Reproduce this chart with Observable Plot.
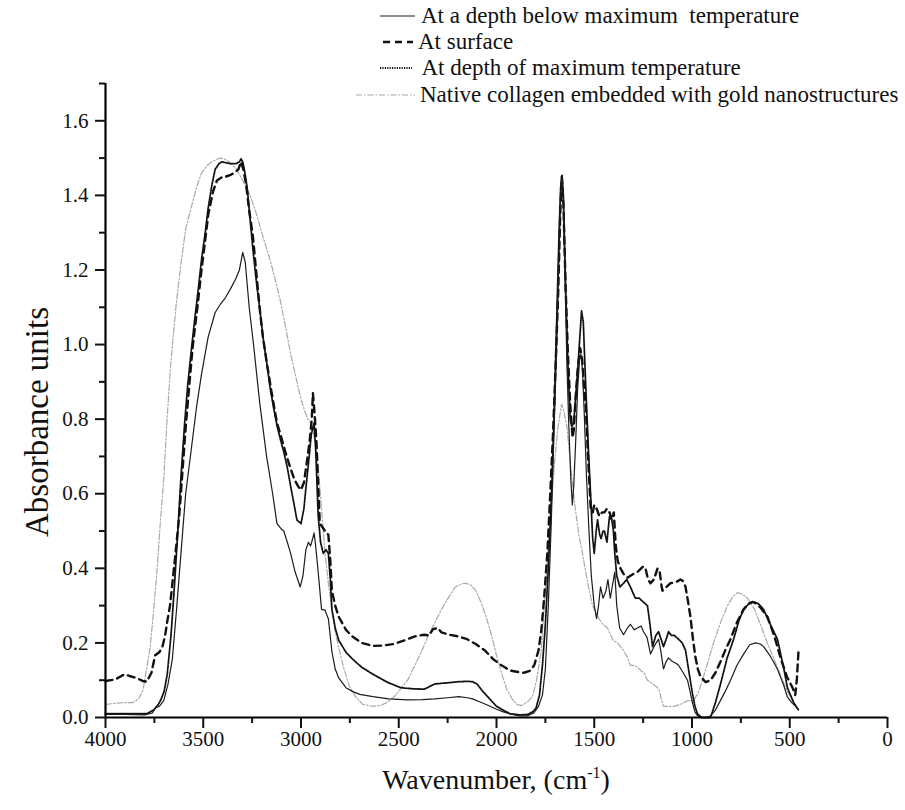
<!DOCTYPE html>
<html><head><meta charset="utf-8">
<script src="https://cdn.jsdelivr.net/npm/d3@7"></script>
<script src="https://cdn.jsdelivr.net/npm/@observablehq/plot@0.6"></script>
<style>
body{margin:0;background:#fff;}
#wrap{position:relative;width:905px;height:810px;font-family:"Liberation Serif","Times New Roman",serif;color:#111;}
.leg{position:absolute;display:flex;align-items:center;font-size:23px;white-space:pre;height:26px;}
.leg svg{flex:none;}
</style></head><body><div id="wrap"></div>
<script>
// ---- data (wavenumber cm-1, absorbance) ----
const seriesNames = [
  "At a depth below maximum  temperature",
  "At surface",
  " At depth of maximum temperature",
  "Native collagen embedded with gold nanostructures"
];
const xMajorTicks = [4000,3500,3000,2500,2000,1500,1000,500,0];
const xMinorTicks = [3750,3250,2750,2250,1750,1250,750,250];
const yMajorTicks = [0,0.2,0.4,0.6,0.8,1.0,1.2,1.4,1.6];
const yMinorTicks = [0.1,0.3,0.5,0.7,0.9,1.1,1.3,1.5,1.7];

const belowWn = [4000,3900,3800,3760,3745,3725,3702,3680,3658,3635,3614,3590,3561,3535,3509,3475,3439,3410,3386,3360,3333,3315,3298,3285,3265,3246,3211,3176,3145,3123,3100,3088,3070,3053,3030,3004,2990,2975,2962,2951,2940,2933,2925,2912,2895,2877,2868,2860,2842,2825,2807,2770,2737,2700,2632,2550,2456,2380,2316,2250,2193,2150,2123,2090,2053,2000,1965,1920,1877,1840,1810,1785,1765,1750,1735,1720,1705,1692,1680,1670,1664,1658,1650,1640,1630,1620,1612,1605,1595,1585,1575,1568,1560,1550,1540,1527,1515,1500,1488,1478,1468,1455,1440,1430,1418,1405,1395,1385,1370,1350,1330,1315,1295,1280,1260,1248,1230,1212,1195,1171,1160,1146,1132,1120,1100,1080,1069,1045,1023,1010,998,985,972,950,920,905,880,850,830,803,770,736,705,675,650,634,600,563,530,512,490,470,455];
const belowAbs = [0.008,0.008,0.007,0.012,0.025,0.03,0.045,0.09,0.157,0.3,0.44,0.6,0.72,0.83,0.92,1.02,1.086,1.11,1.126,1.15,1.177,1.2,1.247,1.22,1.1,1.015,0.843,0.70,0.6,0.52,0.505,0.5,0.47,0.44,0.39,0.35,0.38,0.45,0.47,0.46,0.48,0.495,0.46,0.39,0.29,0.288,0.275,0.265,0.177,0.13,0.106,0.08,0.07,0.062,0.056,0.05,0.047,0.048,0.05,0.053,0.056,0.053,0.05,0.043,0.035,0.022,0.015,0.008,0.004,0.005,0.012,0.03,0.06,0.13,0.3,0.52,0.78,1.0,1.25,1.42,1.45,1.38,1.2,0.95,0.78,0.64,0.57,0.62,0.74,0.88,0.96,0.975,0.93,0.8,0.65,0.5,0.38,0.3,0.265,0.3,0.35,0.32,0.34,0.37,0.32,0.36,0.39,0.3,0.24,0.222,0.24,0.25,0.235,0.24,0.245,0.23,0.215,0.17,0.19,0.21,0.18,0.13,0.15,0.16,0.15,0.145,0.14,0.12,0.1,0.07,0.04,0.015,0.005,0.0,0.0,0.005,0.02,0.05,0.07,0.1,0.14,0.17,0.195,0.2,0.197,0.19,0.165,0.13,0.085,0.055,0.04,0.03,0.02];

const surfaceWn = [4000,3950,3903,3870,3842,3810,3789,3765,3746,3725,3710,3695,3684,3670,3658,3640,3623,3605,3588,3570,3553,3530,3509,3490,3474,3450,3430,3400,3386,3360,3342,3320,3307,3295,3281,3265,3246,3230,3211,3195,3176,3150,3123,3100,3079,3055,3035,3015,3000,2985,2974,2956,2945,2939,2930,2921,2910,2904,2890,2877,2860,2850,2842,2825,2807,2770,2737,2690,2632,2580,2526,2470,2421,2370,2345,2325,2300,2281,2240,2193,2150,2106,2060,2018,1975,1930,1890,1860,1830,1807,1785,1770,1755,1740,1725,1711,1697,1684,1674,1666,1658,1646,1635,1623,1611,1605,1595,1585,1572,1562,1550,1544,1530,1518,1508,1500,1488,1474,1460,1448,1435,1422,1410,1400,1390,1380,1366,1350,1330,1315,1300,1279,1260,1250,1238,1225,1212,1195,1176,1165,1155,1151,1140,1130,1110,1090,1075,1059,1045,1033,1020,1008,995,982,970,957,930,905,880,854,830,803,770,736,710,690,670,650,614,580,547,515,486,472,464,455];
const surfaceAbs = [0.098,0.102,0.116,0.11,0.106,0.098,0.096,0.12,0.167,0.175,0.187,0.22,0.258,0.3,0.359,0.45,0.54,0.67,0.79,0.9,0.999,1.1,1.2,1.28,1.35,1.41,1.44,1.45,1.45,1.455,1.46,1.47,1.49,1.47,1.43,1.36,1.29,1.2,1.096,1.02,0.955,0.87,0.79,0.75,0.71,0.67,0.64,0.62,0.61,0.63,0.67,0.74,0.8,0.87,0.81,0.74,0.6,0.52,0.51,0.5,0.49,0.42,0.34,0.3,0.27,0.235,0.217,0.2,0.192,0.193,0.197,0.207,0.217,0.222,0.22,0.237,0.24,0.228,0.222,0.217,0.21,0.197,0.18,0.157,0.14,0.126,0.122,0.12,0.125,0.14,0.18,0.237,0.33,0.44,0.6,0.76,0.95,1.146,1.35,1.45,1.38,1.146,0.98,0.84,0.75,0.77,0.86,0.93,0.99,0.96,0.87,0.84,0.68,0.56,0.55,0.57,0.56,0.54,0.55,0.55,0.56,0.55,0.53,0.55,0.46,0.42,0.40,0.385,0.375,0.38,0.385,0.39,0.40,0.405,0.40,0.37,0.36,0.37,0.40,0.39,0.35,0.34,0.345,0.35,0.36,0.362,0.365,0.37,0.365,0.35,0.31,0.27,0.21,0.16,0.13,0.11,0.095,0.10,0.12,0.15,0.18,0.21,0.255,0.29,0.305,0.31,0.305,0.295,0.27,0.22,0.16,0.11,0.08,0.06,0.1,0.18];

const maxTempWn = [4000,3900,3789,3754,3730,3719,3700,3684,3665,3649,3630,3614,3595,3579,3560,3544,3525,3509,3490,3474,3455,3439,3420,3404,3380,3360,3333,3315,3307,3298,3290,3275,3263,3245,3228,3210,3193,3175,3158,3140,3123,3105,3088,3070,3053,3035,3021,3000,2985,2974,2960,2947,2933,2925,2912,2900,2886,2872,2860,2850,2842,2825,2807,2770,2737,2690,2632,2560,2491,2430,2369,2316,2250,2193,2150,2123,2100,2070,2035,2000,1960,1930,1880,1842,1815,1798,1780,1765,1750,1735,1719,1705,1693,1680,1672,1665,1658,1646,1635,1623,1615,1605,1595,1585,1575,1565,1556,1544,1530,1518,1508,1500,1490,1483,1472,1465,1455,1448,1435,1422,1410,1402,1395,1385,1369,1350,1334,1315,1290,1270,1250,1228,1215,1202,1185,1171,1158,1146,1132,1120,1105,1090,1069,1050,1033,1015,998,985,972,950,905,880,854,820,787,760,736,710,685,660,634,600,563,530,512,480,455];
const maxTempAbs = [0.01,0.01,0.01,0.02,0.035,0.045,0.07,0.116,0.22,0.34,0.5,0.645,0.79,0.894,0.99,1.066,1.15,1.227,1.3,1.369,1.43,1.47,1.485,1.49,1.487,1.485,1.485,1.49,1.498,1.49,1.47,1.42,1.35,1.25,1.167,1.09,1.015,0.95,0.884,0.83,0.783,0.745,0.712,0.67,0.62,0.57,0.53,0.52,0.56,0.62,0.69,0.76,0.79,0.72,0.54,0.47,0.44,0.45,0.44,0.37,0.29,0.24,0.207,0.175,0.157,0.135,0.116,0.095,0.08,0.077,0.076,0.09,0.093,0.096,0.097,0.096,0.09,0.07,0.05,0.03,0.018,0.01,0.007,0.008,0.015,0.025,0.06,0.14,0.25,0.4,0.59,0.82,1.045,1.3,1.42,1.455,1.4,1.146,0.95,0.80,0.78,0.79,0.86,0.93,1.01,1.09,1.06,0.894,0.72,0.59,0.48,0.44,0.5,0.53,0.49,0.48,0.5,0.5,0.47,0.54,0.53,0.5,0.44,0.38,0.35,0.36,0.37,0.35,0.32,0.32,0.31,0.30,0.25,0.19,0.22,0.23,0.21,0.19,0.21,0.23,0.22,0.22,0.21,0.2,0.18,0.12,0.065,0.03,0.01,0.0,0.0,0.04,0.09,0.16,0.21,0.26,0.29,0.305,0.31,0.305,0.29,0.25,0.21,0.13,0.08,0.04,0.02];

const goldWn = [4000,3950,3900,3860,3830,3807,3790,3772,3755,3737,3720,3702,3685,3667,3640,3614,3590,3561,3535,3509,3480,3456,3430,3412,3390,3368,3330,3298,3260,3228,3195,3158,3130,3105,3080,3053,3025,3000,2980,2965,2950,2939,2925,2912,2895,2877,2860,2842,2825,2807,2780,2754,2720,2684,2632,2590,2561,2525,2491,2455,2421,2385,2351,2315,2281,2245,2211,2180,2158,2130,2106,2080,2053,2025,2000,1975,1948,1920,1895,1875,1860,1835,1816,1795,1772,1755,1737,1720,1702,1685,1667,1655,1640,1627,1614,1597,1579,1560,1544,1525,1509,1490,1470,1456,1432,1404,1380,1366,1350,1330,1315,1299,1279,1260,1245,1228,1200,1176,1165,1160,1146,1120,1095,1060,1023,992,965,941,915,890,850,818,790,767,740,716,680,650,615,583,545,512,480,460,450];
const goldAbs = [0.035,0.038,0.04,0.04,0.05,0.076,0.13,0.187,0.28,0.39,0.52,0.64,0.8,0.944,1.1,1.217,1.31,1.369,1.42,1.46,1.48,1.49,1.497,1.5,1.497,1.49,1.47,1.44,1.40,1.35,1.29,1.227,1.17,1.116,1.05,0.975,0.91,0.854,0.82,0.8,0.79,0.77,0.73,0.67,0.56,0.44,0.36,0.29,0.23,0.187,0.13,0.086,0.055,0.035,0.03,0.033,0.04,0.055,0.076,0.1,0.136,0.175,0.217,0.255,0.29,0.322,0.35,0.358,0.36,0.355,0.34,0.31,0.27,0.22,0.167,0.12,0.076,0.05,0.035,0.032,0.035,0.045,0.056,0.1,0.177,0.3,0.44,0.57,0.69,0.78,0.84,0.82,0.78,0.71,0.64,0.56,0.49,0.44,0.39,0.34,0.30,0.28,0.26,0.25,0.24,0.207,0.2,0.19,0.18,0.16,0.14,0.14,0.135,0.125,0.12,0.10,0.09,0.08,0.07,0.055,0.03,0.03,0.03,0.035,0.045,0.045,0.07,0.11,0.155,0.2,0.26,0.3,0.325,0.335,0.33,0.32,0.29,0.25,0.2,0.16,0.11,0.07,0.04,0.025,0.02];

// ---- styles ----
const styles = [
  {stroke:"#1c1c1c", strokeWidth:1.2, dash:null},
  {stroke:"#111", strokeWidth:2.4, dash:"7,5"},
  {stroke:"#111", strokeWidth:1.8, dash:"1.2,1.2"},
  {stroke:"#a9a9a9", strokeWidth:1.2, dash:"6,2,1.5,2"}
];
const sets = [[belowWn,belowAbs],[surfaceWn,surfaceAbs],[maxTempWn,maxTempAbs],[goldWn,goldAbs]];
const tables = sets.map(([w,a],k)=>w.map((x,i)=>({wn:x, abs:a[i], series:seriesNames[k]})));

const font = '"Liberation Serif","Times New Roman",serif';
const drawOrder = [3,2,1,0];
const plot = Plot.plot({
  width:905, height:810,
  marginLeft:105, marginRight:18, marginTop:83, marginBottom:93,
  x:{domain:[4000,0]},
  y:{domain:[0,1.7]},
  style:{fontFamily:font, fontSize:"21px", color:"#111", background:"white", overflow:"visible"},
  marks:[
    ...drawOrder.map(k=>Plot.line(tables[k],{x:"wn", y:"abs", stroke:styles[k].stroke, strokeWidth:styles[k].strokeWidth, strokeDasharray:styles[k].dash})),
    Plot.ruleY([0],{stroke:"#000", strokeWidth:2.2}),
    Plot.ruleX([4000],{stroke:"#000", strokeWidth:2.2}),
    Plot.axisX(xMinorTicks,{tickSize:6, tickFormat:()=>"", strokeWidth:2, label:null}),
    Plot.axisX(xMajorTicks,{tickSize:11, tickPadding:3, strokeWidth:2, fontSize:21, label:null, tickFormat:d=>String(d)}),
    Plot.axisY(yMinorTicks,{tickSize:6, tickFormat:()=>"", strokeWidth:2, label:null}),
    Plot.axisY(yMajorTicks,{tickSize:10, tickPadding:7, strokeWidth:2, fontSize:21, label:null, tickFormat:d=>d.toFixed(1)})
  ]
});
const wrap = document.getElementById("wrap");
wrap.appendChild(plot);

// axis titles
const svg = d3.select(plot);
const xs = plot.scale("x");
const xMid = (xs.range[0]+xs.range[1])/2;
const xt = svg.append("text").attr("x", xMid).attr("y", 789).attr("text-anchor","middle")
  .attr("font-size", 28).attr("font-family", font).attr("fill","#111");
xt.append("tspan").text("Wavenumber, (cm");
xt.append("tspan").attr("dy",-11).attr("font-size",16).text("-1");
xt.append("tspan").attr("dy",11).text(")");
svg.append("text").attr("transform","translate(48,422) rotate(-90)").attr("text-anchor","middle")
  .attr("font-size", 33).attr("font-family", font).attr("fill","#111").text("Absorbance units");

// legend
const legendPos = [
  {left:380, top:16, w:35, gap:6},
  {left:383, top:42, w:30, gap:5},
  {left:380, top:68, w:32, gap:5},
  {left:356, top:95, w:59, gap:5}
];
seriesNames.forEach((name,k)=>{
  const p = legendPos[k], s = styles[k];
  const div = document.createElement("div");
  div.className = "leg";
  div.style.left = p.left+"px";
  div.style.top = (p.top-13)+"px";
  const ns = "http://www.w3.org/2000/svg";
  const sv = document.createElementNS(ns,"svg");
  sv.setAttribute("width",p.w); sv.setAttribute("height",26);
  sv.style.marginRight = p.gap+"px";
  const ln = document.createElementNS(ns,"line");
  ln.setAttribute("x1",0); ln.setAttribute("x2",p.w); ln.setAttribute("y1",13); ln.setAttribute("y2",13);
  ln.setAttribute("stroke",s.stroke); ln.setAttribute("stroke-width",s.strokeWidth);
  if (s.dash) ln.setAttribute("stroke-dasharray",s.dash);
  sv.appendChild(ln);
  div.appendChild(sv);
  const sp = document.createElement("span");
  sp.textContent = name;
  div.appendChild(sp);
  wrap.appendChild(div);
});
</script></body></html>
